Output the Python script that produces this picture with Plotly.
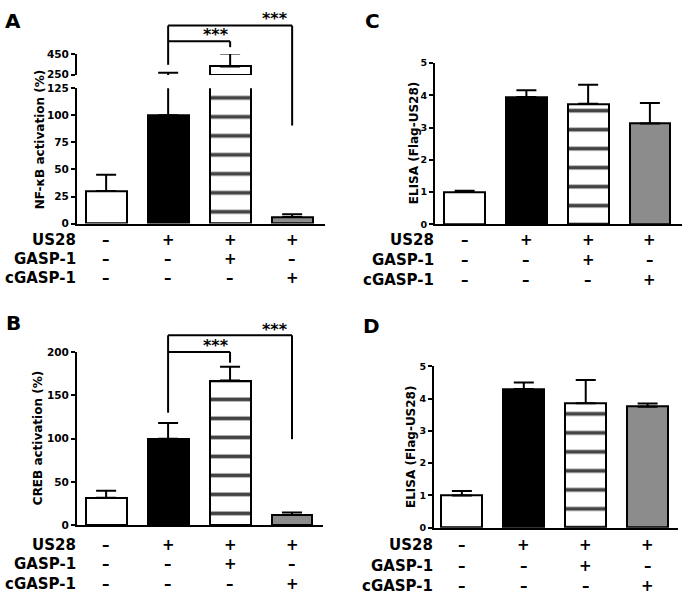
import plotly.graph_objects as go

W, H = 685, 600
FONT = "DejaVu Sans"

# ---------------- data ----------------
categories = [0, 1, 2, 3]
row_names = ["US28", "GASP-1", "cGASP-1"]
row_signs = [
    ["–", "+", "+", "+"],   # US28
    ["–", "–", "+", "–"],   # GASP-1
    ["–", "–", "–", "+"],   # cGASP-1
]

nfkb_mean = [30, 100, 330, 6]
nfkb_top = [45, 268, 455, 8.5]          # mean + error
nfkb_break = (125, 250)                 # broken axis: lower max, upper min
nfkb_lower_ticks = [0, 25, 50, 75, 100, 125]
nfkb_upper_ticks = [250, 450]

creb_mean = [32, 100, 167, 12]
creb_top = [40, 118, 183, 15]
creb_ticks = [0, 50, 100, 150, 200]

elisa_c_mean = [1.0, 3.95, 3.74, 3.13]
elisa_c_top = [1.04, 4.16, 4.33, 3.76]
elisa_d_mean = [1.0, 4.3, 3.86, 3.75]
elisa_d_top = [1.14, 4.5, 4.58, 3.85]
elisa_ticks = [0, 1, 2, 3, 4, 5]

bar_colors = ["white", "black", "white", "#8c8c8c"]
bar_patterns = ["", "", "-", ""]


def fx(px):
    return px / W


def fy(py):
    return 1 - py / H


def bars(mean, top, xa, ya, base=None):
    if base is None:
        y = mean
    else:
        y = [m - b for m, b in zip(mean, base)]
    return go.Bar(
        x=categories, y=y, base=base, xaxis=xa, yaxis=ya, width=0.66,
        marker=dict(color=bar_colors, line=dict(color="black", width=2),
                    pattern=dict(shape=bar_patterns, size=19, solidity=0.2,
                                 fillmode="overlay",
                                 fgcolor="#000000", fgopacity=1)),
        error_y=dict(type="data", symmetric=False,
                     array=[t - m for t, m in zip(top, mean)],
                     arrayminus=[0] * len(mean),
                     color="black", thickness=2, width=10),
        showlegend=False, hoverinfo="skip",
    )


fig = go.Figure()
fig.add_trace(bars(nfkb_mean, nfkb_top, "x", "y"))
upper_base = [nfkb_break[1] if m > nfkb_break[1] else 0 for m in nfkb_mean]
fig.add_trace(bars(nfkb_mean, nfkb_top, "x2", "y2", base=upper_base))
fig.add_trace(bars(creb_mean, creb_top, "x3", "y3"))
fig.add_trace(bars(elisa_c_mean, elisa_c_top, "x4", "y4"))
fig.add_trace(bars(elisa_d_mean, elisa_d_top, "x5", "y5"))


def yax(dom, rng, tv, anchor, size):
    return dict(domain=dom, range=rng, tickvals=tv, anchor=anchor,
                showline=True, linewidth=2, linecolor="black",
                ticks="outside", ticklen=4, tickwidth=2, tickcolor="black",
                showgrid=False, zeroline=False, fixedrange=True,
                tickfont=dict(family=FONT, size=size, color="black", weight="bold"))


def xax(dom, rng, anchor, visible=True):
    return dict(domain=dom, range=rng, anchor=anchor, visible=visible,
                showline=True, linewidth=2, linecolor="black",
                showticklabels=False, ticks="", showgrid=False,
                zeroline=False, fixedrange=True)


xrng_left = [-0.47, 3.53]
xdomA = [fx(77), fx(325)]
xdomB = [fx(77), fx(323)]
xdomC = [fx(435), fx(682)]
xdomD = [fx(434), fx(678)]

fig.update_layout(
    width=W, height=H,
    margin=dict(l=0, r=0, t=0, b=0),
    paper_bgcolor="white", plot_bgcolor="rgba(0,0,0,0)",
    bargap=0,
    xaxis=xax(xdomA, xrng_left, "y"),
    yaxis=yax([fy(222), fy(84)], [0, nfkb_break[0]], nfkb_lower_ticks, "x", 10.5),
    xaxis2=xax(xdomA, xrng_left, "y2", visible=False),
    yaxis2=yax([fy(70.5), fy(49)], [246, 450], nfkb_upper_ticks, "x2", 10.5),
    xaxis3=xax(xdomB, [-0.47, 3.50], "y3"),
    yaxis3=yax([fy(530), fy(353)], [0, 200], creb_ticks, "x3", 10.5),
    xaxis4=xax(xdomC, [-0.48, 3.52], "y4"),
    yaxis4=yax([fy(222.7), fy(58.3)], [0, 5], elisa_ticks, "x4", 9.5),
    xaxis5=xax(xdomD, [-0.45, 3.49], "y5"),
    yaxis5=yax([fy(532.3), fy(367.7)], [0, 5], elisa_ticks, "x5", 9.5),
)

ann = []


def text(x, y, s, size, xref="paper", xanchor="center", angle=0):
    ann.append(dict(x=x, y=y, xref=xref, yref="paper", text=s, showarrow=False,
                    xanchor=xanchor, yanchor="middle", textangle=angle,
                    font=dict(family=FONT, size=size, color="black", weight="bold")))


# panel letters
text(fx(13), fy(15), "A", 20)
text(fx(13), fy(323), "B", 20)
text(fx(372), fy(15), "C", 20)
text(fx(371), fy(327), "D", 20)

# y titles
text(fx(40), fy(136), "NF-κB activation (%)", 12, angle=-90)
text(fx(38), fy(441), "CREB activation (%)", 12, angle=-90)
text(fx(414), fy(140), "ELISA (Flag-US28)", 12, angle=-90)
text(fx(411), fy(450), "ELISA (Flag-US28)", 12, angle=-90)

# condition rows
panels_rows = [
    ("x", 77, [239, 258, 278]),
    ("x3", 77, [550, 569, 590]),
    ("x4", 435, [239, 259, 280]),
    ("x5", 434, [550, 571, 592]),
]
for xr, xl, ys in panels_rows:
    for name, signs, yy in zip(row_names, row_signs, ys):
        text(fx(xl + 1), fy(yy), name, 15, xanchor="right")
        for c, s in zip(categories, signs):
            text(c, fy(yy), s, 15, xref=xr)

# significance stars
text(1.77, fy(29), "***", 16, xref="x")
text(2.73, fy(13), "***", 16, xref="x")
text(1.77, fy(346), "***", 16, xref="x3")
text(2.73, fy(330), "***", 16, xref="x3")

fig.update_layout(annotations=ann)

# brackets
shapes = []


def seg(xr, x0, y0, x1, y1):
    shapes.append(dict(type="line", xref=xr, yref="paper", x0=x0, x1=x1,
                       y0=fy(y0), y1=fy(y1), line=dict(color="black", width=2)))


for xr, left_bot, top_o, right_o_bot, top_i, right_i_bot in [
    ("x", 60, 20, 122, 36, 42),
    ("x3", 415, 336, 442, 353, 364),
]:
    seg(xr, 1, left_bot, 1, top_o)
    seg(xr, 1, top_o, 3, top_o)
    seg(xr, 3, top_o, 3, right_o_bot)
    seg(xr, 1, top_i, 2, top_i)
    seg(xr, 2, top_i, 2, right_i_bot)

fig.update_layout(shapes=shapes)

fig.write_html(
    "out.html",
    config={"displayModeBar": False},
    post_script="document.body.style.margin='0';"
                "document.body.style.overflow='hidden';"
                "document.documentElement.style.overflow='hidden';",
)
